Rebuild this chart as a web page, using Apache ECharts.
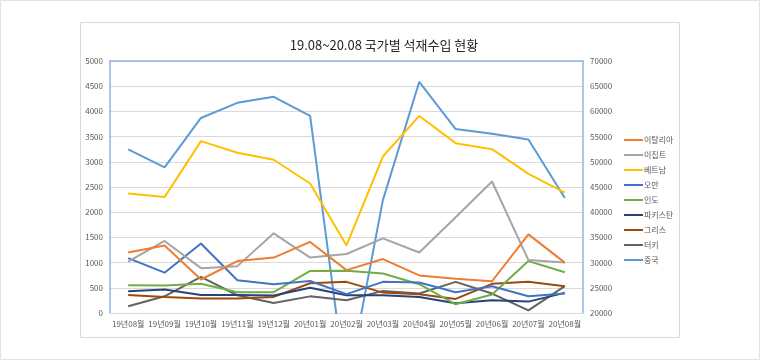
<!DOCTYPE html>
<html>
<head>
<meta charset="utf-8">
<script src="https://cdn.jsdelivr.net/npm/echarts@6/dist/echarts.min.js"></script>
<style>
html,body{margin:0;padding:0;background:#fff;}
#chart{width:760px;height:360px;}
</style>
</head>
<body>
<div id="chart"></div>
<script>
const categories = ['19년08월','19년09월','19년10월','19년11월','19년12월','20년01월','20년02월','20년03월','20년04월','20년05월','20년06월','20년07월','20년08월'];
const italy    = [1200, 1340, 665, 1030, 1100, 1410, 850, 1070, 745, 680, 630, 1560, 1000];
const egypt    = [1020, 1430, 890, 930, 1580, 1100, 1170, 1480, 1200, 1900, 2610, 1050, 1000];
const vietnam  = [2370, 2300, 3410, 3180, 3040, 2570, 1340, 3105, 3910, 3370, 3250, 2760, 2390];
const oman     = [1090, 800, 1380, 650, 570, 635, 375, 618, 605, 412, 532, 332, 386];
const india    = [550, 545, 580, 412, 412, 835, 838, 785, 572, 173, 366, 1030, 810];
const pakistan = [432, 466, 359, 359, 346, 502, 352, 352, 319, 193, 253, 226, 399];
const greece   = [359, 319, 286, 286, 319, 590, 618, 405, 372, 279, 578, 618, 532];
const turkey   = [133, 332, 718, 352, 200, 330, 253, 439, 386, 618, 386, 53, 532];
const china    = [52450, 48900, 58700, 61700, 62900, 59100, 4500, 42400, 65870, 56500, 55570, 54440, 42800];
const leftTicks = [0, 5000, 500];
const rightTicks = [20000, 70000, 5000];

const FONT = '"Noto Sans CJK KR", "Noto Sans", sans-serif';
const names = ['이탈리아','이집트','베트남','오만','인도','파키스탄','그리스','터키','중국'];
const colors = ['#ED7D31','#A5A5A5','#FFC000','#4472C4','#70AD47','#264478','#9E480E','#636363','#5B9BD5'];
const datas = [italy, egypt, vietnam, oman, india, pakistan, greece, turkey, china];

const series = names.map((n, i) => ({
  name: n,
  type: 'line',
  yAxisIndex: n === '중국' ? 1 : 0,
  data: datas[i],
  symbol: 'none',
  lineStyle: { width: 2, color: colors[i] },
  itemStyle: { color: colors[i] },
  clip: true,
  z: 10 - i
}));

const chart = echarts.init(document.getElementById('chart'), null, { renderer: 'canvas' });
chart.setOption({
  animation: false,
  textStyle: { fontFamily: FONT },
  title: {
    text: '19.08~20.08 국가별 석재수입 현황',
    left: 379, top: 34, textAlign: 'center',
    textStyle: { fontFamily: FONT, fontSize: 13, fontWeight: 'normal', color: '#262626' }
  },
  graphic: [
    { type: 'rect', shape: { x: 0.5, y: 0.5, width: 759, height: 359 }, style: { fill: 'none', stroke: '#E3E3E3', lineWidth: 1 }, silent: true },
    { type: 'rect', shape: { x: 80.5, y: 22.5, width: 599, height: 315 }, style: { fill: 'none', stroke: '#D9D9D9', lineWidth: 1 }, silent: true }
  ],
  legend: {
    orient: 'vertical',
    left: 619, top: 130,
    itemWidth: 19, itemHeight: 2,
    itemGap: 5,
    icon: 'rect',
    data: names,
    textStyle: { fontFamily: FONT, fontSize: 8, color: '#595959', lineHeight: 10, padding: [0, 0, 0, -4] }
  },
  grid: { left: 110, right: 177, top: 61, bottom: 47, containLabel: false },
  xAxis: [
    {
      type: 'category', data: categories, boundaryGap: true, position: 'bottom',
      axisLine: { lineStyle: { color: '#D9D9D9', width: 1 } },
      axisTick: { show: false },
      axisLabel: { fontFamily: FONT, fontSize: 8, color: '#595959', margin: 7, interval: 0 }
    },
    {
      type: 'category', data: categories, boundaryGap: true, position: 'top',
      axisLine: { show: true, lineStyle: { color: '#8DB4E2', width: 1.5 } },
      axisTick: { show: false }, axisLabel: { show: false }, splitLine: { show: false }
    }
  ],
  yAxis: [
    {
      type: 'value', min: leftTicks[0], max: leftTicks[1], interval: leftTicks[2], position: 'left',
      axisLine: { show: true, lineStyle: { color: '#8DB4E2', width: 1.5 } },
      axisTick: { show: false },
      axisLabel: { fontFamily: FONT, fontSize: 8, color: '#595959', margin: 7, formatter: v => String(v) },
      splitLine: { lineStyle: { color: '#D9D9D9', width: 1 } }
    },
    {
      type: 'value', min: rightTicks[0], max: rightTicks[1], interval: rightTicks[2], position: 'right',
      axisLine: { show: true, lineStyle: { color: '#8DB4E2', width: 1.5 } },
      axisTick: { show: false },
      axisLabel: { fontFamily: FONT, fontSize: 8, color: '#595959', margin: 7, formatter: v => String(v) },
      splitLine: { show: false }
    }
  ],
  series: series
});
</script>
</body>
</html>
